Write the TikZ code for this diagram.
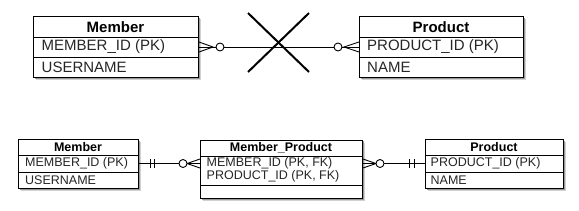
\documentclass[tikz,border=0pt]{standalone}
\usepackage{fontspec}
\setmainfont{Liberation Sans}
\usetikzlibrary{calc}
\begin{document}
\begin{tikzpicture}[x=1pt,y=-1pt,
  box/.style={draw=black, line width=1pt, fill=white, inner sep=0pt, anchor=north west},
  shadeA/.style={fill=black!18, draw=none},
  shadeB/.style={fill=black!40, draw=none},
  sep/.style={line width=0.9pt},
  hdrA/.style={font=\fontsize{15}{15}\selectfont\bfseries, inner sep=0pt},
  rowA/.style={font=\fontsize{15}{15}\selectfont, anchor=west, inner sep=0pt, text=black!85},
  hdrB/.style={font=\fontsize{12.5}{12.5}\selectfont\bfseries, inner sep=0pt},
  rowB/.style={font=\fontsize{12.5}{12.5}\selectfont, anchor=west, inner sep=0pt, text=black!85},
  conn/.style={line width=0.9pt},
  ring/.style={line width=0.9pt, fill=white},
  cross/.style={line width=2pt}
]
\useasboundingbox (0,0) rectangle (579,210);

% ---------- shadows ----------
\fill[shadeA] (36,19) rectangle (201,80);
\fill[shadeB] (34.5,17.5) rectangle (199.5,78.5);
\fill[shadeA] (362,19) rectangle (526,80);
\fill[shadeB] (360.5,17.5) rectangle (524.5,78.5);
\fill[shadeA] (21,142) rectangle (141,191);
\fill[shadeB] (19.5,140.5) rectangle (139.5,189.5);
\fill[shadeA] (203,142.5) rectangle (365,201);
\fill[shadeB] (201.5,141) rectangle (363.5,199.5);
\fill[shadeA] (428,142) rectangle (566,191);
\fill[shadeB] (426.5,140.5) rectangle (564.5,189.5);

% ---------- top: Member ----------
\node[box, minimum width=165pt, minimum height=61pt] (m1) at (33,16) {};
\draw[sep] (m1.west |- 0,37) -- (m1.east |- 0,37);
\draw[sep] (m1.west |- 0,57) -- (m1.east |- 0,57);
\node[hdrA] (m1h) at (115.5,27) {Member};
\node[rowA] (m1a) at (41.5,47) {MEMBER\_ID (PK)};
\node[rowA] (m1b) at (41.5,67) {USERNAME};

% ---------- top: Product ----------
\node[box, minimum width=164pt, minimum height=61pt] (p1) at (359,16) {};
\draw[sep] (p1.west |- 0,37) -- (p1.east |- 0,37);
\draw[sep] (p1.west |- 0,57) -- (p1.east |- 0,57);
\node[hdrA] (p1h) at (441,27) {Product};
\node[rowA] (p1a) at (367,47) {PRODUCT\_ID (PK)};
\node[rowA] (p1b) at (367,67) {NAME};

% ---------- top connector ----------
\draw[conn] (m1.east) -- (p1.west);
\draw[conn] ($(m1.east)+(0,-5)$) -- ($(m1.east)+(14,0)$) -- ($(m1.east)+(0,5)$);
\draw[ring] ($(m1.east)+(21,0)$) circle (4);
\draw[conn] ($(p1.west)+(0,-5)$) -- ($(p1.west)+(-15,0)$) -- ($(p1.west)+(0,5)$);
\draw[ring] ($(p1.west)+(-21,0)$) circle (4);
\coordinate (xa) at (248,13);
\coordinate (xb) at (309,72);
\coordinate (xc) at (309,13);
\coordinate (xd) at (248,72);
\draw[cross] (xa) -- (xb);
\draw[cross] (xc) -- (xd);

% ---------- bottom: Member ----------
\node[box, minimum width=120pt, minimum height=49pt] (m2) at (18,139) {};
\draw[sep] (m2.west |- 0,155) -- (m2.east |- 0,155);
\draw[sep] (m2.west |- 0,172) -- (m2.east |- 0,172);
\node[hdrB] (m2h) at (78,147.5) {Member};
\node[rowB] (m2a) at (25,163.5) {MEMBER\_ID (PK)};
\node[rowB] (m2b) at (25,180) {USERNAME};

% ---------- bottom: Member_Product ----------
\node[box, minimum width=162pt, minimum height=58.5pt] (mp) at (200,139.5) {};
\draw[sep] (mp.west |- 0,156.5) -- (mp.east |- 0,156.5);
\draw[sep] (mp.west |- 0,185) -- (mp.east |- 0,185);
\node[hdrB] (mph) at (281,148) {Member\_Product};
\node[rowB] (mpa) at (206.5,163) {MEMBER\_ID (PK, FK)};
\node[rowB] (mpb) at (206.5,176) {PRODUCT\_ID (PK, FK)};

% ---------- bottom: Product ----------
\node[box, minimum width=138pt, minimum height=49pt] (p2) at (425,139) {};
\draw[sep] (p2.west |- 0,155) -- (p2.east |- 0,155);
\draw[sep] (p2.west |- 0,172) -- (p2.east |- 0,172);
\node[hdrB] (p2h) at (494,147.5) {Product};
\node[rowB] (p2a) at (430.5,163.5) {PRODUCT\_ID (PK)};
\node[rowB] (p2b) at (430.5,180) {NAME};

% ---------- bottom connectors ----------
\coordinate (l1) at (m2.east |- 0,163.5);
\coordinate (l2) at (mp.west |- 0,163.5);
\draw[conn] (l1) -- (l2);
\draw[conn] ($(l1)+(11,-4.5)$) -- ($(l1)+(11,4.5)$);
\draw[conn] ($(l1)+(15,-4.5)$) -- ($(l1)+(15,4.5)$);
\draw[conn] ($(l2)+(0,-4.5)$) -- ($(l2)+(-13,0)$) -- ($(l2)+(0,4.5)$);
\draw[ring] ($(l2)+(-17,0)$) circle (4);

\coordinate (r1) at (mp.east |- 0,163.5);
\coordinate (r2) at (p2.west |- 0,163.5);
\draw[conn] (r1) -- (r2);
\draw[conn] ($(r1)+(0,-4.5)$) -- ($(r1)+(13,0)$) -- ($(r1)+(0,4.5)$);
\draw[ring] ($(r1)+(17,0)$) circle (4);
\draw[conn] ($(r2)+(-16,-4.5)$) -- ($(r2)+(-16,4.5)$);
\draw[conn] ($(r2)+(-11,-4.5)$) -- ($(r2)+(-11,4.5)$);
\end{tikzpicture}
\end{document}
